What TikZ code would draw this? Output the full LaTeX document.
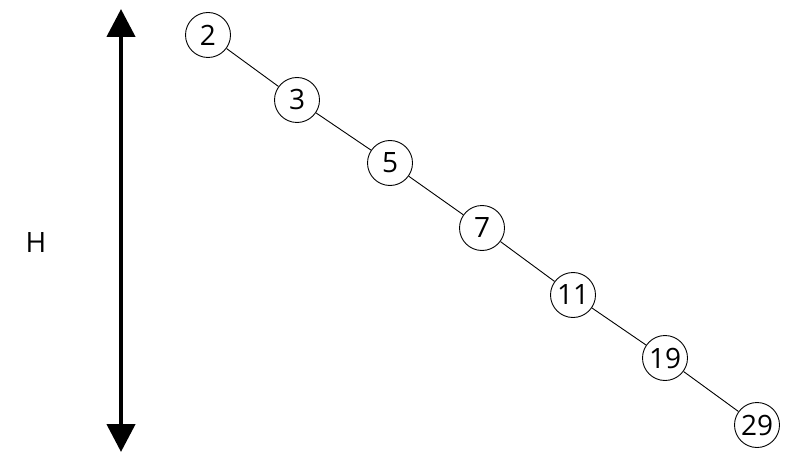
\documentclass[tikz,border=0pt]{standalone}
\usepackage{fontspec}
\setmainfont{Open Sans}
\usetikzlibrary{arrows.meta}
\begin{document}
\begin{tikzpicture}[x=1pt,y=1pt,
  keynode/.style={circle,draw,line width=0.9pt,minimum size=45pt,inner sep=0pt,font=\fontsize{28}{32}\selectfont},
  edge/.style={line width=0.9pt},
  harrow/.style={line width=4.5pt,{Triangle[length=28pt,width=28pt]}-{Triangle[length=28pt,width=28pt]}}]
\useasboundingbox (0,0) rectangle (791,453);
\node[keynode] (n2) at (208,418) {2};
\node[keynode] (n3) at (297,353) {3};
\node[keynode] (n5) at (390,290) {5};
\node[keynode] (n7) at (482,225) {7};
\node[keynode] (n11) at (573,158) {11};
\node[keynode] (n19) at (665,95) {19};
\node[keynode] (n29) at (757,28) {29};
\draw[edge] (n2) -- (n3);
\draw[edge] (n3) -- (n5);
\draw[edge] (n5) -- (n7);
\draw[edge] (n7) -- (n11);
\draw[edge] (n11) -- (n19);
\draw[edge] (n19) -- (n29);
\coordinate (top) at (121,444);
\coordinate (bot) at (121,1);
\draw[harrow] (bot) -- (top);
\node[font=\fontsize{28}{32}\selectfont] (h) at (36,210) {H};
\end{tikzpicture}
\end{document}
